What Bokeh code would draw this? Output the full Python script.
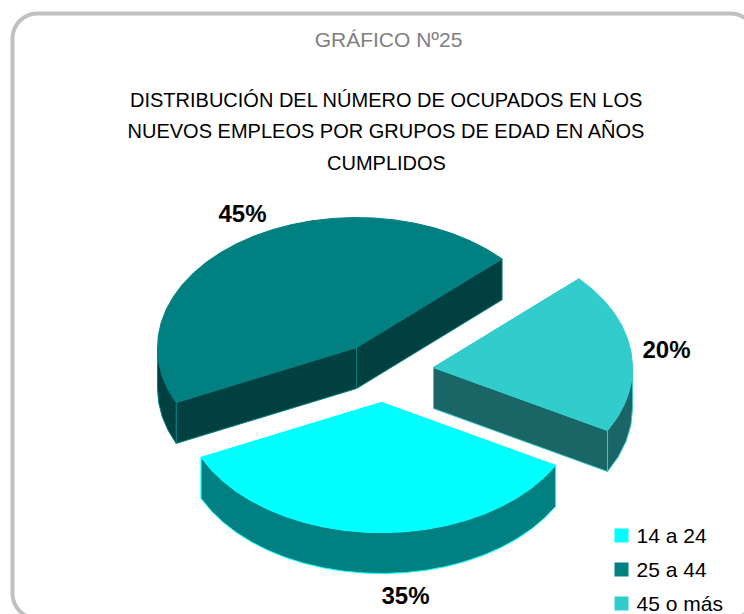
import numpy as np
from bokeh.plotting import figure
from bokeh.models import Range1d
from bokeh.core.properties import value
from bokeh.embed import file_html
from bokeh.resources import INLINE

categories = ["14 a 24", "25 a 44", "45 o más"]
shares = [35, 45, 20]
share_labels = ["35%", "45%", "20%"]
top_colors = ["#00FFFF", "#008080", "#33CCCC"]
wall_colors = ["#008080", "#004040", "#1A6666"]

title_top = "GRÁFICO Nº25"
title_lines = ["DISTRIBUCIÓN DEL NÚMERO DE OCUPADOS EN LOS",
               "NUEVOS EMPLEOS POR GRUPOS DE EDAD EN AÑOS",
               "CUMPLIDOS"]

W, H = 744, 614
RX, RY, DEPTH = 199.0, 130.0, 41.0
START = 29.0
centers = [(381, 402), (356, 347), (433, 367)]
label_xy = [(405, 595), (242, 213), (666, 349)]
legend_y = [535, 569, 603]

p = figure(width=W, height=H, output_backend="svg", toolbar_location=None,
           x_range=Range1d(0, W), y_range=Range1d(H, 0),
           min_border=0, outline_line_color=None)
p.axis.visible = False
p.grid.visible = False

# rounded card
r = 25
L, T, R, B = 12, 13, 755, 618
arc = lambda cx, cy, a0, a1: [(cx + r*np.cos(np.radians(a)), cy + r*np.sin(np.radians(a))) for a in np.linspace(a0, a1, 16)]
pts = arc(L+r, T+r, 180, 270) + arc(R-r, T+r, 270, 360) + arc(R-r, B-r, 0, 90) + arc(L+r, B-r, 90, 180)
pts.append(pts[0])
p.line([q[0] for q in pts], [q[1] for q in pts], line_color="#C0C0C0", line_width=4)

def rim(c, a0, a1):
    n = max(2, int(abs(a1 - a0) / 6) + 1)
    t = np.radians(np.linspace(a0, a1, n))
    return c[0] + RX*np.cos(t), c[1] + RY*np.sin(t)

edges = np.cumsum([0] + shares) * 3.6 + START
order = [1, 2, 0]
for i in order:
    c = centers[i]
    a0, a1 = edges[i], edges[i+1]
    top, wall = top_colors[i], wall_colors[i]
    for a in (a0, a1):
        x = c[0] + RX*np.cos(np.radians(a)); y = c[1] + RY*np.sin(np.radians(a))
        p.patch([c[0], x, x, c[0]], [c[1], y, y+DEPTH, c[1]+DEPTH],
                fill_color=wall, line_color=top, line_width=1)
    for k in (-1, 0, 1):
        lo, hi = max(a0, 360*k), min(a1, 360*k + 180)
        if hi > lo:
            x, y = rim(c, lo, hi)
            p.patch(list(x) + list(x[::-1]), list(y) + list(y[::-1] + DEPTH),
                    fill_color=wall, line_color=top, line_width=1)
    x, y = rim(c, a0, a1)
    p.patch([c[0]] + list(x), [c[1]] + list(y), fill_color=top, line_color=top, line_width=1)

for (lx, ly), s in zip(label_xy, share_labels):
    p.text([lx], [ly], text=[s], text_font=value("Liberation Sans"), text_font_style="bold",
           text_font_size="24px", text_color="#000000", text_align="center", text_baseline="middle")

p.text([388], [39], text=[title_top], text_font=value("Liberation Sans"), text_font_size="21px",
       text_color="#808080", text_align="center", text_baseline="middle")
for ty, t in zip([99, 130, 162], title_lines):
    p.text([386], [ty], text=[t], text_font=value("Liberation Sans"), text_font_size="20px",
           text_color="#000000", text_align="center", text_baseline="middle")

for yy, col, cat in zip(legend_y, top_colors, categories):
    p.scatter([621], [yy], marker="square", size=14, fill_color=col, line_color=None)
    p.text([636], [yy], text=[cat], text_font=value("Liberation Sans"), text_font_size="21px",
           text_color="#000000", text_align="left", text_baseline="middle")

open("out.html", "w").write(file_html(p, INLINE))
